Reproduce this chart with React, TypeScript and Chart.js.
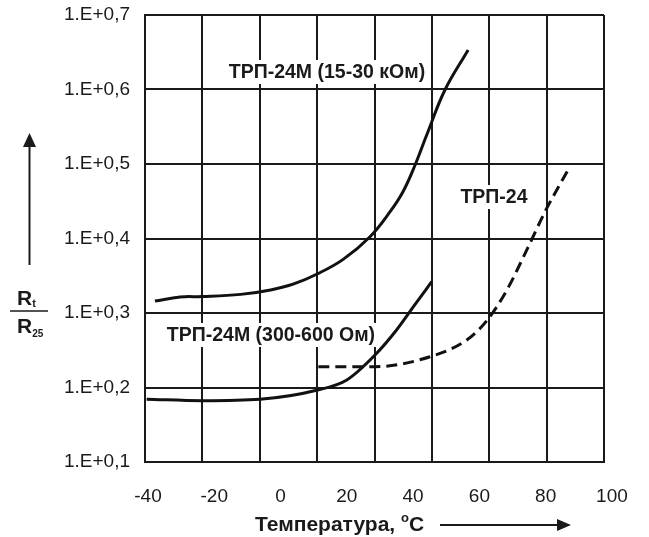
import React, { useEffect, useRef } from "react";
import { Chart, registerables } from "chart.js";

Chart.register(...registerables);

// ---- axes ----
const xTickValues = [-40, -20, 0, 20, 40, 60, 80, 100];
const xMin = -40.9;
const xMax = 97.6;
const gridColumns = 8;
const yTickValues = [1, 2, 3, 4, 5, 6, 7];
const yTickLabels = ["1.E+0,1", "1.E+0,2", "1.E+0,3", "1.E+0,4", "1.E+0,5", "1.E+0,6", "1.E+0,7"];

// ---- series ----
const seriesNames = ["ТРП-24М (15-30 кОм)", "ТРП-24М (300-600 Ом)", "ТРП-24"];

const tempKOhm = [-37.9, -30.3, -23.4, -12.0, -3.0, 4.0, 10.9, 18.9, 27.0, 33.0, 36.9, 40.6, 44.1, 49.6, 56.6];
const ratioKOhm = [3.16, 3.215, 3.22, 3.25, 3.31, 3.39, 3.52, 3.72, 4.024, 4.356, 4.624, 4.987, 5.389, 5.993, 6.53];

const tempOhm = [-40.4, -23.5, -6.2, 11.2, 20.0, 28.5, 35.0, 40.1, 45.6];
const ratioOhm = [1.842, 1.823, 1.842, 1.966, 2.101, 2.436, 2.772, 3.085, 3.42];

const tempTrp24 = [11.4, 28.5, 45.1, 56.2, 62.4, 68.3, 74.3, 79.8, 87.3];
const ratioTrp24 = [2.28, 2.28, 2.413, 2.638, 2.906, 3.309, 3.846, 4.36, 4.964];

// ---- titles ----
const xTitleText = "Температура, ";
const xTitleDegree = "o";
const xTitleUnit = "C";
const yTitleMain = "R";
const yTitleTopSub = "t";
const yTitleBottomSub = "25";

// label anchors (data units) for curve names
const labelAnchorT = [14.0, -2.9, 64.4];
const labelAnchorV = [6.235, 2.705, 4.557];

const FAMILY = "'Liberation Sans', Arial, sans-serif";
const INK = "#1a1a1a";

const overlayPlugin = {
  id: "overlay",
  beforeDatasetsDraw(chart: any) {
    const { ctx } = chart;
    const xs = chart.scales.x;
    const ys = chart.scales.y;
    ctx.save();
    ctx.font = `bold 19.5px ${FAMILY}`;
    ctx.textAlign = "center";
    ctx.textBaseline = "middle";
    seriesNames.forEach((name, i) => {
      const px = xs.getPixelForValue(labelAnchorT[i]);
      const py = ys.getPixelForValue(labelAnchorV[i]);
      const w = ctx.measureText(name).width;
      ctx.fillStyle = "#ffffff";
      ctx.fillRect(px - w / 2 - 3, py - 12, w + 6, 24);
      ctx.fillStyle = INK;
      ctx.fillText(name, px, py + 1);
    });
    ctx.restore();
  },
  afterDraw(chart: any) {
    const { ctx, chartArea } = chart;
    ctx.save();
    ctx.fillStyle = INK;
    ctx.strokeStyle = INK;

    // X title
    const ty = chartArea.bottom + 63;
    ctx.textBaseline = "middle";
    ctx.textAlign = "left";
    ctx.font = `bold 21px ${FAMILY}`;
    let x = 255;
    ctx.fillText(xTitleText, x, ty);
    x += ctx.measureText(xTitleText).width;
    ctx.font = `bold 13px ${FAMILY}`;
    ctx.fillText(xTitleDegree, x, ty - 7);
    x += ctx.measureText(xTitleDegree).width;
    ctx.font = `bold 21px ${FAMILY}`;
    ctx.fillText(xTitleUnit, x, ty);
    // x arrow
    ctx.lineWidth = 2;
    ctx.beginPath();
    ctx.moveTo(440, ty);
    ctx.lineTo(560, ty);
    ctx.stroke();
    ctx.beginPath();
    ctx.moveTo(571, ty);
    ctx.lineTo(557, ty - 6);
    ctx.lineTo(557, ty + 6);
    ctx.closePath();
    ctx.fill();

    // Y arrow
    ctx.beginPath();
    ctx.moveTo(29.5, 265);
    ctx.lineTo(29.5, 145);
    ctx.stroke();
    ctx.beginPath();
    ctx.moveTo(29.5, 133);
    ctx.lineTo(23, 147);
    ctx.lineTo(36, 147);
    ctx.closePath();
    ctx.fill();

    // fraction Rt / R25
    ctx.textAlign = "left";
    ctx.textBaseline = "alphabetic";
    ctx.font = `bold 21px ${FAMILY}`;
    ctx.fillText(yTitleMain, 17, 305);
    const rw = ctx.measureText(yTitleMain).width;
    ctx.font = `bold 11px ${FAMILY}`;
    ctx.fillText(yTitleTopSub, 17 + rw, 307);
    ctx.font = `bold 21px ${FAMILY}`;
    ctx.fillText(yTitleMain, 17, 333);
    ctx.font = `bold 10px ${FAMILY}`;
    ctx.fillText(yTitleBottomSub, 17 + rw, 337);
    ctx.lineWidth = 1.5;
    ctx.beginPath();
    ctx.moveTo(10, 311);
    ctx.lineTo(48, 311);
    ctx.stroke();

    ctx.restore();
  },
};

export default function App() {
  const ref = useRef<HTMLCanvasElement | null>(null);

  useEffect(() => {
    if (!ref.current) return;
    const mk = (t: number[], v: number[]) => t.map((tt, i) => ({ x: tt, y: v[i] }));
    const common = {
      borderColor: "#111111",
      borderWidth: 3,
      pointRadius: 0,
      fill: false,
      cubicInterpolationMode: "monotone" as const,
      xAxisID: "x",
      yAxisID: "y",
    };
    const chart = new Chart(ref.current, {
      type: "line",
      data: {
        datasets: [
          {
            ...common,
            cubicInterpolationMode: "default" as const,
            tension: 0.4,
            label: seriesNames[0],
            data: mk(tempKOhm, ratioKOhm),
          },
          { ...common, label: seriesNames[1], data: mk(tempOhm, ratioOhm) },
          { ...common, label: seriesNames[2], data: mk(tempTrp24, ratioTrp24), borderDash: [11, 6] },
        ],
      },
      options: {
        responsive: false,
        animation: false,
        devicePixelRatio: 1,
        layout: { padding: { top: 15, right: 45, left: 0, bottom: 0 } },
        plugins: { legend: { display: false }, tooltip: { enabled: false } },
        scales: {
          xg: {
            type: "linear",
            position: "bottom",
            min: 0,
            max: gridColumns,
            ticks: { display: false, stepSize: 1 },
            grid: { color: INK, lineWidth: 2, drawTicks: false },
            border: { display: true, color: INK, width: 2 },
            afterFit: (s: any) => {
              s.height = 0;
              s.paddingLeft = 0;
              s.paddingRight = 0;
            },
          },
          x: {
            type: "linear",
            position: "bottom",
            min: xMin,
            max: xMax,
            grid: { display: false, drawTicks: false },
            border: { display: false },
            ticks: {
              padding: 23,
              autoSkip: false,
              maxRotation: 0,
              color: INK,
              font: { size: 19, family: FAMILY },
            },
            afterBuildTicks: (s: any) => {
              s.ticks = xTickValues.map((v) => ({ value: v }));
            },
            afterFit: (s: any) => {
              s.height = 75;
              s.paddingLeft = 0;
              s.paddingRight = 0;
            },
          },
          y: {
            type: "linear",
            position: "left",
            min: yTickValues[0],
            max: yTickValues[yTickValues.length - 1],
            ticks: {
              stepSize: 1,
              padding: 15,
              color: INK,
              font: { size: 19, family: FAMILY },
              callback: (v: any) => yTickLabels[yTickValues.indexOf(Number(v))] ?? "",
            },
            grid: { color: INK, lineWidth: 2, drawTicks: false },
            border: { display: true, color: INK, width: 2 },
            afterFit: (s: any) => {
              s.width = 145;
              s.paddingTop = 0;
              s.paddingBottom = 0;
            },
          },
        },
      } as any,
      plugins: [overlayPlugin],
    });
    return () => chart.destroy();
  }, []);

  return (
    <div style={{ position: "absolute", left: 0, top: 0, width: 649, height: 537, background: "#fff" }}>
      <canvas ref={ref} width={649} height={537} style={{ width: 649, height: 537, display: "block" }} />
    </div>
  );
}
